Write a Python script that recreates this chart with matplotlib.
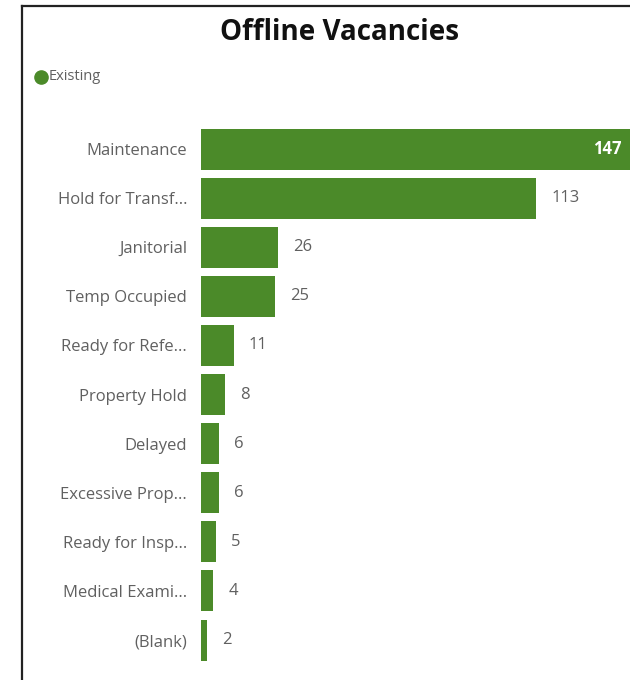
import matplotlib.pyplot as plt
from matplotlib.lines import Line2D

# offline vacancies by status
categories = ["Maintenance", "Hold for Transf...", "Janitorial", "Temp Occupied",
              "Ready for Refe...", "Property Hold", "Delayed", "Excessive Prop...",
              "Ready for Insp...", "Medical Exami...", "(Blank)"]
counts = [147, 113, 26, 25, 11, 8, 6, 6, 5, 4, 2]

bar_color = "#4b8a29"
text_gray = "#606060"

plt.rcParams['font.family'] = ['Open Sans', 'DejaVu Sans']

fig = plt.figure(figsize=(6.3, 6.8), dpi=100)

# panel frame (left + top edges)
fig.add_artist(Line2D([22/630, 22/630], [0, 1 - 6/680], color="#222222", lw=1.6,
                      transform=fig.transFigure))
fig.add_artist(Line2D([22/630, 1], [1 - 6/680, 1 - 6/680], color="#222222", lw=1.6,
                      transform=fig.transFigure))

fig.text(340/630, 1 - 33/680, "Offline Vacancies", ha="center", va="center",
         fontsize=20, fontweight="bold", color="#111111")

# legend
fig.add_artist(Line2D([41/630], [1 - 77/680], marker="o", markersize=9.5, color=bar_color,
                      lw=0, transform=fig.transFigure))
fig.text(49/630, 1 - 77/680, "Existing", ha="left", va="center", fontsize=10.5,
         color=text_gray)

ax = fig.add_axes([201/630, 0.0227, 436/630, 0.7942])
y = list(range(len(categories)))
bars = ax.barh(y, counts, height=0.835, color=bar_color)
ax.set_ylim(len(categories) - 0.5, -0.5)
ax.set_xlim(0, max(counts))
ax.set_yticks(y)
ax.set_yticklabels(categories, fontsize=12, color=text_gray)
ax.tick_params(axis="y", length=0, pad=10)
ax.set_xticks([])
for s in ax.spines.values():
    s.set_visible(False)

for rect, v in zip(bars, counts):
    if v == max(counts):
        ax.annotate(str(v), (rect.get_width(), rect.get_y() + rect.get_height() / 2),
                    xytext=(-11, 0), textcoords="offset points", ha="right", va="center",
                    fontsize=12, fontweight="bold", color="white")
    else:
        ax.annotate(str(v), (rect.get_width(), rect.get_y() + rect.get_height() / 2),
                    xytext=(11, 0), textcoords="offset points", ha="left", va="center",
                    fontsize=12, color=text_gray)

fig.savefig("out.png", dpi=100)
